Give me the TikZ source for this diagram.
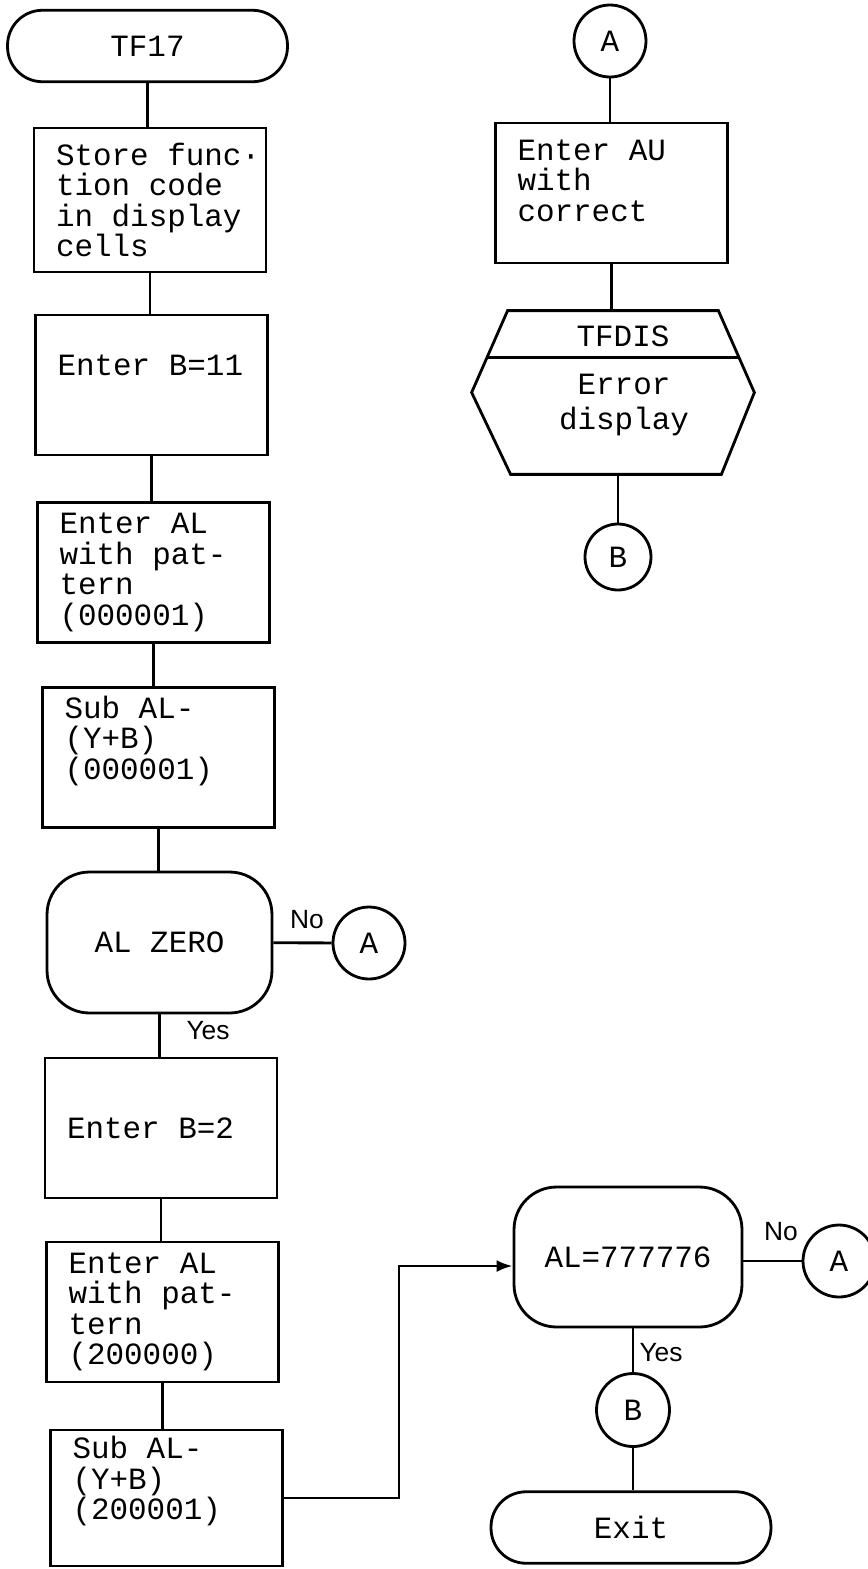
\documentclass[tikz,border=0pt]{standalone}
\usepackage{fontspec}
\usepackage{tikz}
\usetikzlibrary{arrows.meta,calc,positioning}
\newfontfamily\twfont{Liberation Mono}
\newfontfamily\lblfont{Liberation Sans}
\newcommand{\tw}{\twfont\fontsize{17.6}{17.4}\selectfont\hyphenpenalty=10000\relax}
\newcommand{\lb}{\lblfont\fontsize{15}{17}\selectfont}

\begin{document}
\begin{tikzpicture}[x=0.02cm,y=-0.02cm,line width=1.6pt,
    proc/.style={draw,rectangle,minimum width=4.64cm,minimum height=2.8cm,
      text width=3.76cm,inner xsep=0.44cm,align=left,font=\tw,
      execute at begin node={\spaceskip=0.6em\relax}},
    dec/.style={draw,rectangle,rounded corners=0.85cm,minimum width=4.5cm,
      minimum height=2.82cm,font=\tw},
    term/.style={draw,rectangle,rounded corners=0.7cm,minimum width=5.6cm,
      minimum height=1.43cm,font=\tw},
    conn/.style={draw,circle,minimum size=1.44cm,inner sep=0pt,font=\tw},
    lbl/.style={inner sep=0pt,font=\lb}]
  \useasboundingbox (0,0) rectangle (867,1569);

  \node[term] (tf17) at (147.5,46) {TF17};
  \node[proc,minimum height=2.88cm] (store) at (150,200) {Store~func·\\tion~code\\in~display\\cells};
  \node[proc] (b11) at (151.5,385) {Enter~B=11\\ \strut};
  \node[proc] (al1) at (153.5,572.5) {Enter~AL\\with~pat-\\tern\\(000001)};
  \node[proc] (sub1) at (158.5,757.5) {Sub~AL-\\(Y+B)\\(000001)\\ \strut};
  \node[dec] (zero) at (159.5,942.5) {AL ZERO};
  \node[conn] (ca1) at (369,943) {A};
  \node[proc] (b2) at (161,1128) {Enter~B=2};
  \node[proc] (al2) at (162.5,1312) {Enter~AL\\with~pat-\\tern\\(200000)};
  \node[proc,minimum height=2.72cm] (sub2) at (166.5,1498) {Sub~AL-\\(Y+B)\\(200001)\\ \strut};

  \node[conn] (ca0) at (610,41) {A};
  \node[proc] (au) at (611.5,193) {Enter~AU\\with\\correct\\[-0.3cm]\strut};
  \node[minimum width=5.6cm,minimum height=3.22cm,inner sep=0pt] (dis) at (613,392.5) {};
  \draw ([xshift=0.72cm]dis.north west) -- ([xshift=-0.72cm]dis.north east) -- (dis.east)
    -- ([xshift=-0.66cm]dis.south east) -- ([xshift=0.78cm]dis.south west) -- (dis.west) -- cycle;
  \draw ($([xshift=0.72cm]dis.north west)!0.57!(dis.west)$) -- ($([xshift=-0.72cm]dis.north east)!0.57!(dis.east)$);
  \node[font=\tw] (disname) at (623,336) {TFDIS};
  \node[font=\tw,align=center] (distext) at (624,405) {Error\\[3pt]display};
  \node[conn,minimum size=1.32cm] (cb0) at (618,557) {B};

  \node[dec,minimum width=4.56cm,minimum height=2.8cm] (check) at (628,1257) {AL=777776};
  \node[conn] (ca2) at (839,1261) {A};
  \node[conn,minimum size=1.46cm] (cb1) at (633,1410) {B};
  \node[term] (exit) at (631,1527.5) {Exit};
  \coordinate (bend) at (399,1266);

  \node[lbl] (no1) at (307,920) {No};
  \node[lbl] (yes1) at (208,1031) {Yes};
  \node[lbl] (no2) at (781,1232) {No};
  \node[lbl] (yes2) at (661,1353) {Yes};

  \draw (tf17.south) -- (tf17.south |- store.north);
  \draw (store.south) -- (store.south |- b11.north);
  \draw (b11.south) -- (b11.south |- al1.north);
  \draw (al1.south) -- (al1.south |- sub1.north);
  \draw (sub1.south) -- (sub1.south |- zero.north);
  \draw (zero) -- (ca1);
  \draw (zero.south) -- (zero.south |- b2.north);
  \draw (b2.south) -- (b2.south |- al2.north);
  \draw (al2.south) -- (al2.south |- sub2.north);
  \draw[-{Latex[length=0.32cm,width=0.24cm]}] (sub2.east) -| (bend) -- (bend -| check.west);

  \draw (ca0) -- (ca0 |- au.north);
  \draw (au.south) -- (au.south |- dis.north);
  \draw (cb0 |- dis.south) -- (cb0);

  \draw (check.east |- ca2) -- (ca2);
  \draw (check.south -| cb1) -- (cb1);
  \draw (cb1) -- (cb1 |- exit.north);
\end{tikzpicture}
\end{document}
